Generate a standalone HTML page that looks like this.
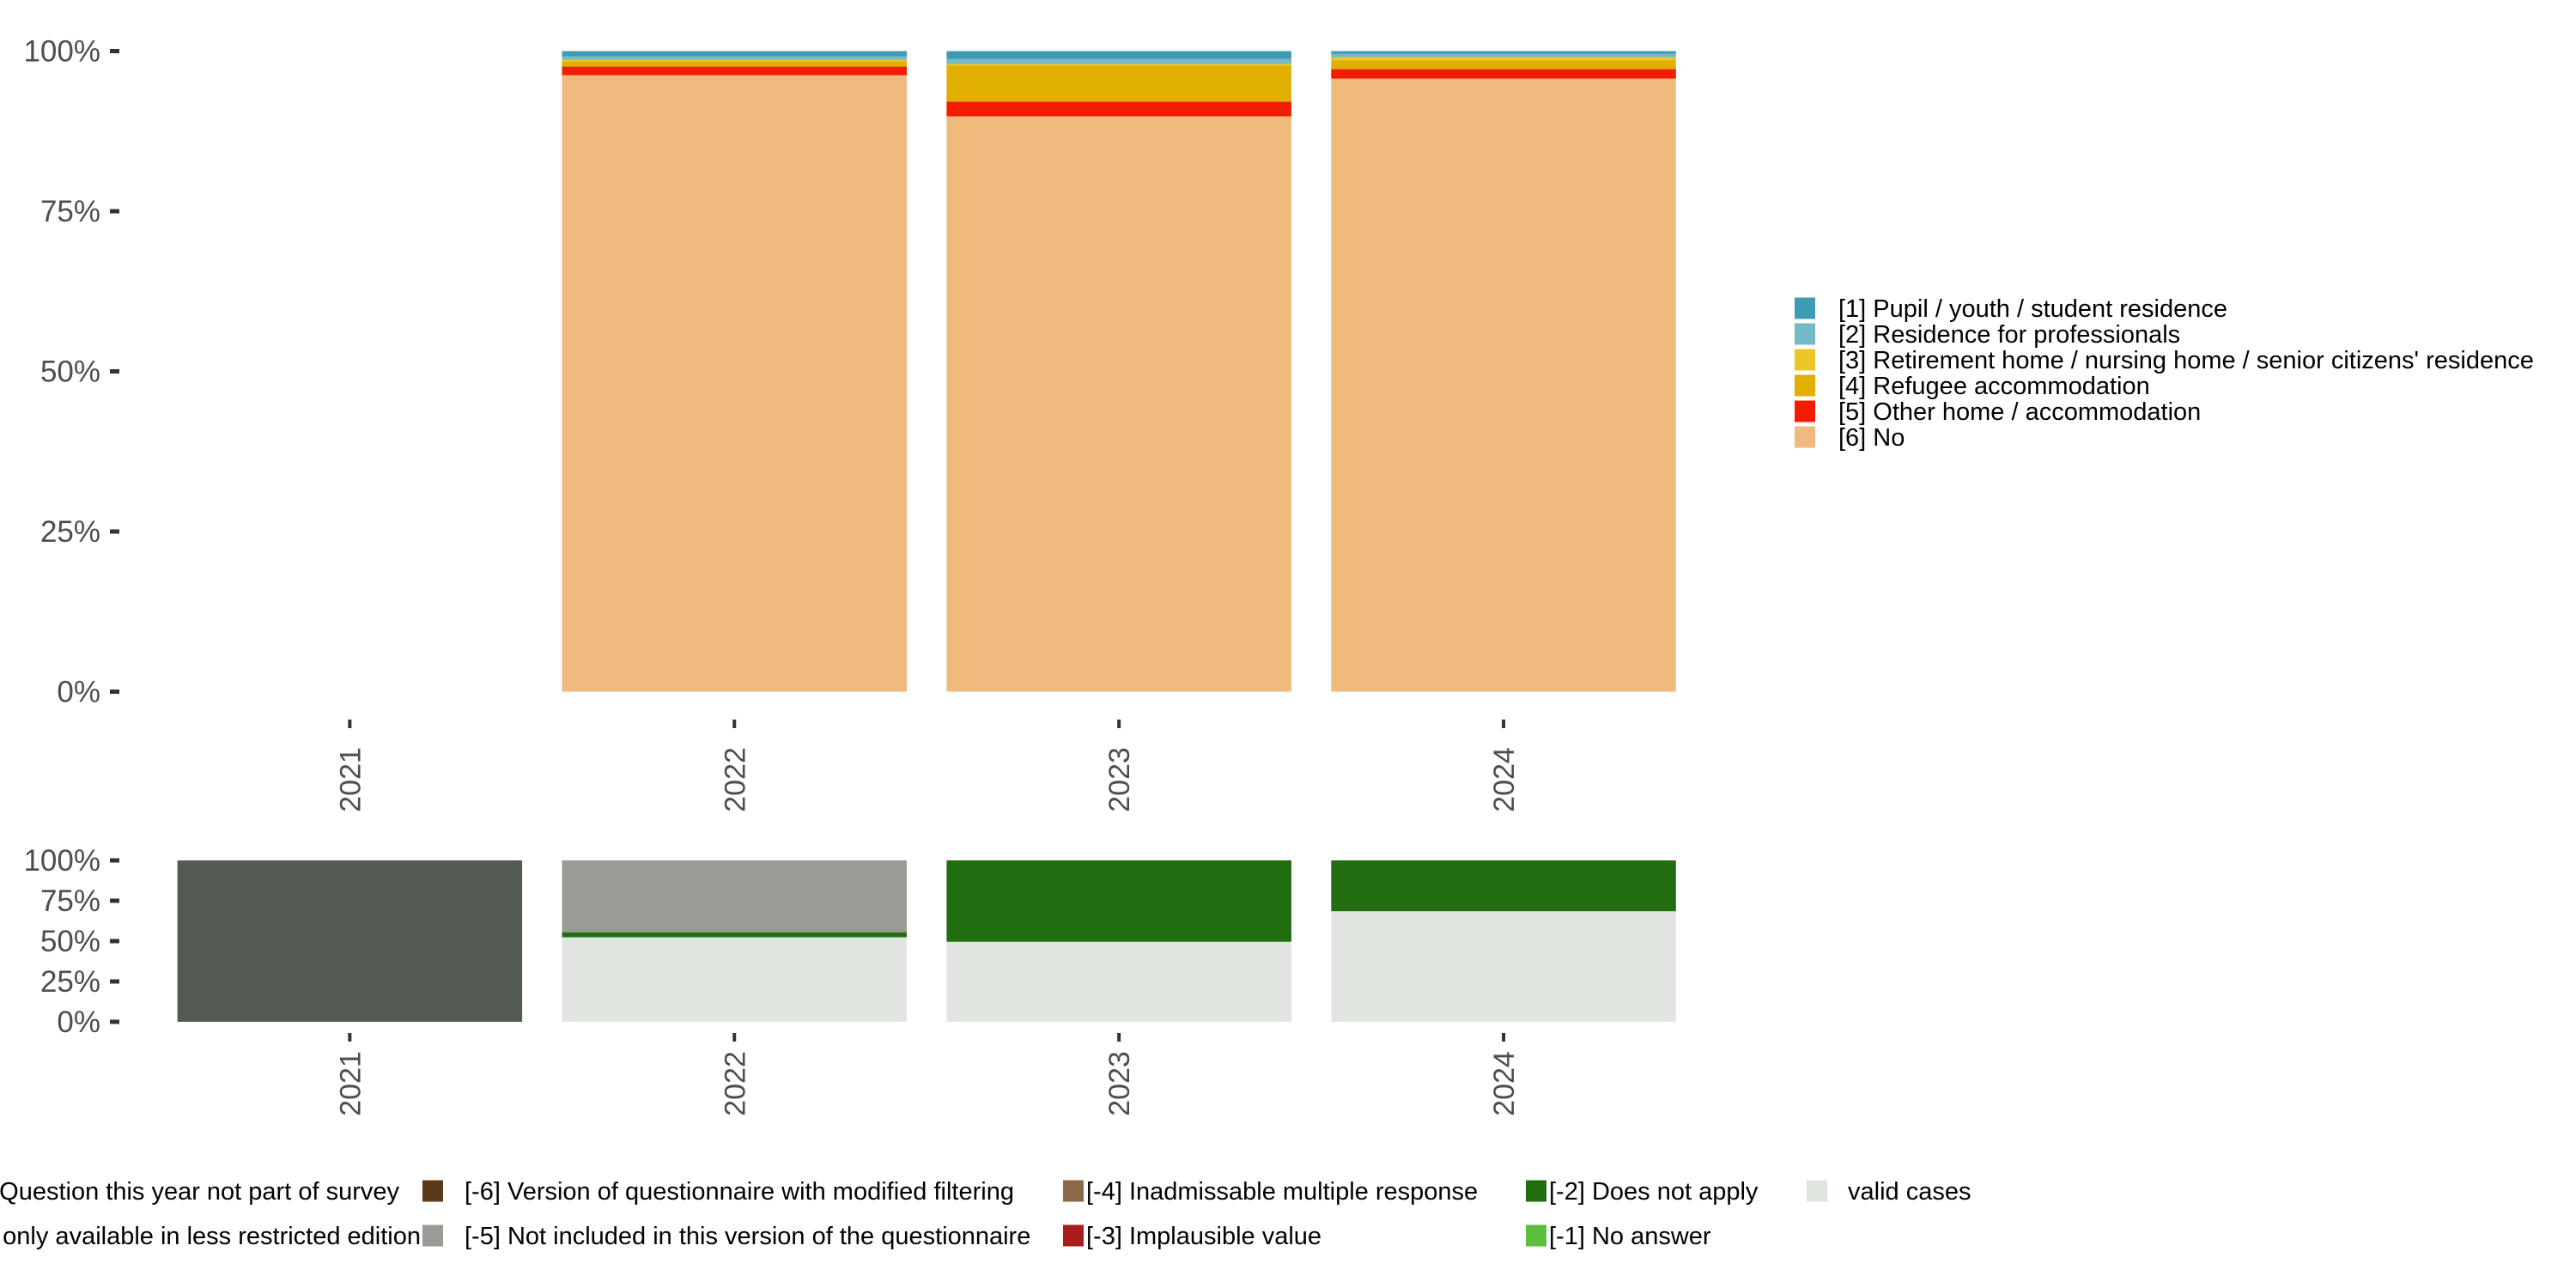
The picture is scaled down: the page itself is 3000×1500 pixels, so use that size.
<!DOCTYPE html>
<html><head><meta charset="utf-8"><style>
html,body{margin:0;padding:0;background:#fff;width:3000px;height:1500px;overflow:hidden}
svg{display:block;font-family:"Liberation Sans",sans-serif}
</style></head><body>
<svg id="chart" width="3000" height="1500" viewBox="0 0 3000 1500" xmlns="http://www.w3.org/2000/svg"></svg>
<script>
const years = ["2021","2022","2023","2024"];
const topCats = ["[1] Pupil / youth / student residence","[2] Residence for professionals","[3] Retirement home / nursing home / senior citizens' residence","[4] Refugee accommodation","[5] Other home / accommodation","[6] No"];
const topColors = ["#3e9bb4","#75b8c8","#ecc628","#e0af00","#f21c00","#f0ba7e"];
// percentages per year, order: [1]..[6]
const top2021 = [0,0,0,0,0,0];
const top2022 = [0.8,0.55,0.27,0.8,1.34,96.24];
const top2023 = [1.2,0.8,0.27,5.63,2.28,89.82];
const top2024 = [0.4,0.54,0.54,1.34,1.47,95.71];
const botCats = ["[-7] Question this year not part of survey","[-5] Not included in this version of the questionnaire","[-2] Does not apply","valid cases"];
const botColors = ["#545b53","#999c95","#236d11","#e1e5e0"];
const botNotPart = [100,0,0,0];
const botNotIncl = [0,44.5,0,0];
const botNotApply = [0,3.1,50.4,31.5];
const botValid = [0,52.4,49.6,68.5];
const yTicks = [0,25,50,75,100];

const svg = document.getElementById('chart');
const NS = "http://www.w3.org/2000/svg";
function mk(tag, attrs, parent){const e=document.createElementNS(NS,tag);for(const k in attrs)e.setAttribute(k,attrs[k]);(parent||svg).appendChild(e);return e;}
const barW = 401.5;
function xBar(i){return 206.6 + i*447.9;}
function yTop(v){return 805.5 - v/100*746;}
function yBot(v){return 1190 - v/100*188;}

const topData=[top2021,top2022,top2023,top2024];
topData.forEach((d,i)=>{
  let cum=0;
  for(let k=d.length-1;k>=0;k--){
    if(d[k]<=0) continue;
    const r=mk('rect',{x:xBar(i),y:yTop(cum+d[k]),width:barW,height:yTop(cum)-yTop(cum+d[k]),fill:topColors[k]});
    
    
    cum+=d[k];
  }
});
const botSeries=[botNotPart,botNotIncl,botNotApply,botValid];
years.forEach((yr,i)=>{
  let cum=0;
  for(let k=botSeries.length-1;k>=0;k--){
    const v=botSeries[k][i]; if(v<=0) continue;
    const r=mk('rect',{x:xBar(i),y:yBot(cum+v),width:barW,height:yBot(cum)-yBot(cum+v),fill:botColors[k]});
    
    
    cum+=v;
  }
});
yTicks.forEach(t=>{
  [[yTop,'top'],[yBot,'bottom']].forEach(([f,p])=>{
    const y=f(t);
    const tx=mk('text',{x:117,y:y+12,'text-anchor':'end','font-size':35,fill:'#4d4d4d'});
    tx.textContent=t+'%';
    
    
    const l=mk('line',{x1:128,x2:139,y1:y,y2:y,stroke:'#333','stroke-width':5});
    
    
  });
});
years.forEach((yr,i)=>{
  const cx=xBar(i)+barW/2;
  [[843,908],[1208,1262]].forEach(([ty,ly],p)=>{
    const l=mk('line',{x1:cx,x2:cx,y1:ty-5,y2:ty+5,stroke:'#333','stroke-width':4});
    
    
    const t=mk('text',{x:0,y:0,'text-anchor':'middle','font-size':34,fill:'#4d4d4d',transform:`translate(${cx+12},${ly}) rotate(-90)`});
    t.textContent=yr;
    
    
  });
});
topCats.forEach((c,k)=>{
  const y=359+k*30;
  const r=mk('rect',{x:2090,y:y-12.5,width:24,height:25,fill:topColors[k]});
  
  
  const t=mk('text',{x:2141,y:y+10,'font-size':29,fill:'#000'});
  t.textContent=c;
  
  
});
const bl=[
 {sx:null,tx:465,y:1387,c:null,t:"[-7] Question this year not part of survey",anchor:'end'},
 {sx:null,tx:490,y:1439,c:null,t:"[-8] Question only available in less restricted edition",anchor:'end'},
 {sx:492,tx:541,y:1387,c:"#5a3a1a",t:"[-6] Version of questionnaire with modified filtering"},
 {sx:492,tx:541,y:1439,c:"#999c95",t:"[-5] Not included in this version of the questionnaire"},
 {sx:1238,tx:1265,y:1387,c:"#8c6a48",t:"[-4] Inadmissable multiple response"},
 {sx:1238,tx:1265,y:1439,c:"#a81c1c",t:"[-3] Implausible value"},
 {sx:1777,tx:1804,y:1387,c:"#236d11",t:"[-2] Does not apply"},
 {sx:1777,tx:1804,y:1439,c:"#5abf3f",t:"[-1] No answer"},
 {sx:2104,tx:2152,y:1387,c:"#e1e5e0",t:"valid cases"}
];
bl.forEach(e=>{
  if(e.sx!==null){
    const r=mk('rect',{x:e.sx,y:e.y-12.5,width:24,height:25,fill:e.c});
    
    
  }
  const t=mk('text',{x:e.tx,y:e.y+10,'font-size':29,fill:'#000','text-anchor':e.anchor||'start'});
  t.textContent=e.t;
  
  
});
</script>
</body></html>
